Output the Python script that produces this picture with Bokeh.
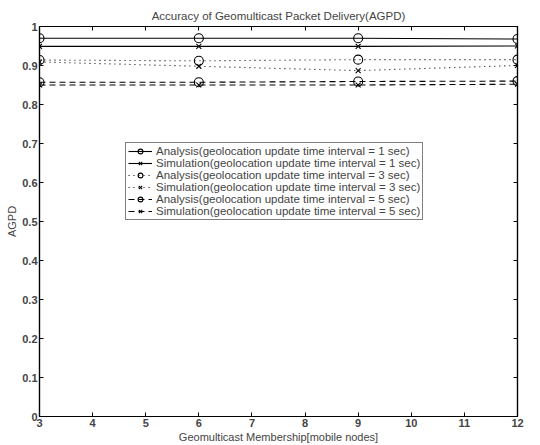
from bokeh.plotting import figure
from bokeh.models import Range1d, FixedTicker, LinearAxis, Legend, LegendItem
from bokeh.embed import file_html
from bokeh.resources import INLINE

members = [3, 6, 9, 12]
ana_1s = [0.970, 0.970, 0.970, 0.968]
sim_1s = [0.949, 0.949, 0.949, 0.950]
ana_3s = [0.914, 0.912, 0.915, 0.915]
sim_3s = [0.909, 0.898, 0.887, 0.900]
ana_5s = [0.857, 0.857, 0.859, 0.860]
sim_5s = [0.850, 0.850, 0.850, 0.852]

x_ticks = [3, 4, 5, 6, 7, 8, 9, 10, 11, 12]
y_ticks = [0, 0.1, 0.2, 0.3, 0.4, 0.5, 0.6, 0.7, 0.8, 0.9, 1]
y_tick_labels = ["0", "0.1", "0.2", "0.3", "0.4", "0.5", "0.6", "0.7", "0.8", "0.9", "1"]

series = [
    ("Analysis(geolocation update time interval = 1 sec)", ana_1s, "solid", "circle"),
    ("Simulation(geolocation update time interval = 1 sec)", sim_1s, "solid", "x"),
    ("Analysis(geolocation update time interval = 3 sec)", ana_3s, "1 4", "circle"),
    ("Simulation(geolocation update time interval = 3 sec)", sim_3s, "1 4", "x"),
    ("Analysis(geolocation update time interval = 5 sec)", ana_5s, "6 4", "circle"),
    ("Simulation(geolocation update time interval = 5 sec)", sim_5s, "6 4", "x"),
]

FONT = "Liberation Sans"

p = figure(frame_width=478, frame_height=390, output_backend="svg", toolbar_location=None,
           x_range=Range1d(3, 12), y_range=Range1d(0, 1),
           min_border_left=39, min_border_right=23, min_border_top=26, min_border_bottom=29,
           title="Accuracy of Geomulticast Packet Delivery(AGPD)")
p.title.align = "center"
p.title.text_font = FONT
p.title.text_font_size = "11.5px"
p.title.text_font_style = "normal"
p.title.standoff = 9
p.title.offset = 0

p.xgrid.visible = False
p.ygrid.visible = False
p.outline_line_color = "black"
p.outline_line_width = 1.2

def style_axis(ax, labels=True):
    ax.axis_line_color = "black"
    ax.axis_line_width = 1.2
    ax.major_tick_in = 4
    ax.major_tick_out = 0
    ax.minor_tick_line_color = None
    ax.major_label_text_font = FONT
    ax.major_label_text_font_size = "11px"
    ax.major_label_text_font_style = "bold"
    ax.major_label_standoff = 2
    ax.axis_label_text_font = FONT
    ax.axis_label_text_font_size = "11px"
    ax.axis_label_text_font_style = "normal"
    ax.axis_label_standoff = 1
    if not labels:
        ax.major_label_text_font_size = "0px"
        ax.major_label_text_color = None
        ax.major_label_standoff = 0

p.xaxis.ticker = FixedTicker(ticks=x_ticks)
p.yaxis.ticker = FixedTicker(ticks=y_ticks)
p.yaxis.major_label_overrides = {t: l for t, l in zip(y_ticks, y_tick_labels)}
p.xaxis.axis_label = "Geomulticast Membership[mobile nodes]"
p.yaxis.axis_label = "AGPD"
style_axis(p.xaxis[0])
style_axis(p.yaxis[0])

top_ax = LinearAxis(ticker=FixedTicker(ticks=x_ticks))
right_ax = LinearAxis(ticker=FixedTicker(ticks=y_ticks))
style_axis(top_ax, labels=False)
style_axis(right_ax, labels=False)
p.add_layout(top_ax, "above")
p.add_layout(right_ax, "right")

items = []
for label, ys, dash, marker in series:
    r1 = p.line(members, ys, line_color="black", line_width=1.1, line_dash=dash)
    r2 = p.scatter(members, ys, marker=marker, size=9 if marker == "circle" else 7,
                   line_color="black", fill_color=None, line_width=1.1)
    items.append(LegendItem(label=label, renderers=[r1, r2]))

legend = Legend(items=items, location=(86, 196))
legend.label_text_font = FONT
legend.label_text_font_size = "11.5px"
legend.label_height = 12
legend.glyph_height = 12
legend.glyph_width = 24
legend.spacing = 0
legend.padding = 2
legend.margin = 0
legend.label_standoff = 4
legend.border_line_color = "black"
legend.border_line_width = 1
legend.background_fill_alpha = 1
p.add_layout(legend, "center")

open("out.html", "w").write(file_html(p, INLINE))
